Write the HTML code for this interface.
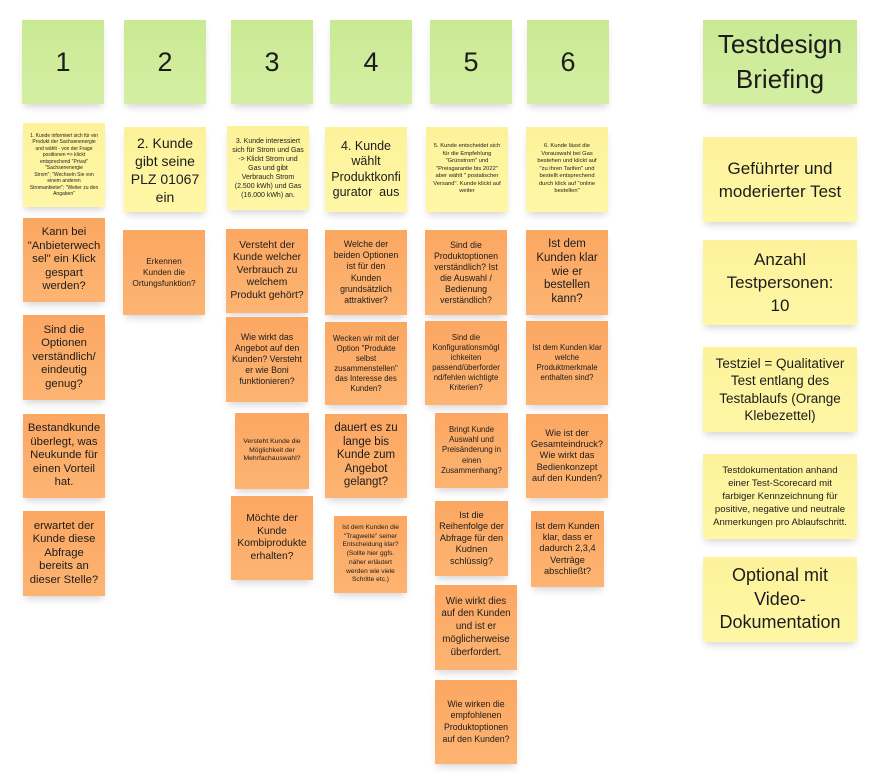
<!DOCTYPE html>
<html><head><meta charset="utf-8">
<style>
html,body{margin:0;padding:0;background:#fff;}
body{width:884px;height:784px;position:relative;overflow:hidden;font-family:"Liberation Sans","DejaVu Sans",sans-serif;color:#1c1c1c;}
.n{position:absolute;display:flex;align-items:center;justify-content:center;text-align:center;box-shadow:0 5px 7px -2px rgba(0,0,0,0.16);white-space:nowrap;box-sizing:border-box;}
.g{background:linear-gradient(#c9e994,#d4efa2);}
.y{background:linear-gradient(#fdf29a,#fff7a6);}
.o{background:linear-gradient(#fba762,#fdb472);}
</style></head><body>

<!-- top green numbers -->
<div class="n g" style="left:22px;top:20px;width:82px;height:84px;font-size:27px;">1</div>
<div class="n g" style="left:124px;top:20px;width:82px;height:84px;font-size:27px;">2</div>
<div class="n g" style="left:231px;top:20px;width:82px;height:84px;font-size:27px;">3</div>
<div class="n g" style="left:330px;top:20px;width:82px;height:84px;font-size:27px;">4</div>
<div class="n g" style="left:430px;top:20px;width:82px;height:84px;font-size:27px;">5</div>
<div class="n g" style="left:527px;top:20px;width:82px;height:84px;font-size:27px;">6</div>

<!-- yellow step notes -->
<div class="n y" style="left:23px;top:123px;width:82px;height:84px;font-size:5px;line-height:6.5px;">1. Kunde informiert sich für ein<br>Produkt der Sachsenenergie<br>und wählt - von der Frage<br>positionen => klickt<br>entsprechend "Privat"<br>"Sachsenenergie<br>Strom"; "Wechseln Sie von<br>einem anderen<br>Stromanbieter"; "Weiter zu den<br>Angaben"</div>
<div class="n y" style="left:124px;top:127px;width:82px;height:85px;font-size:14px;line-height:18px;">2. Kunde<br>gibt seine<br>PLZ 01067<br>ein</div>
<div class="n y" style="left:227px;top:126px;width:82px;height:84px;font-size:7px;line-height:9px;">3. Kunde interessiert<br>sich für Strom und Gas<br>-&gt; Klickt Strom und<br>Gas und gibt<br>Verbrauch Strom<br>(2.500 kWh) und Gas<br>(16.000 kWh) an.</div>
<div class="n y" style="left:325px;top:127px;width:82px;height:85px;font-size:12.5px;line-height:15.5px;">4. Kunde<br>wählt<br>Produktkonfi<br>gurator&nbsp; aus</div>
<div class="n y" style="left:426px;top:127px;width:82px;height:85px;font-size:5.8px;line-height:7.6px;">5. Kunde entscheidet sich<br>für die Empfehlung<br>"Grünstrom" und<br>"Preisgarantie bis 2022"<br>aber wählt " postalischer<br>Versand". Kunde klickt auf<br>weiter</div>
<div class="n y" style="left:526px;top:127px;width:82px;height:85px;font-size:5.8px;line-height:7.6px;">6. Kunde lässt die<br>Vorauswahl bei Gas<br>bestehen und klickt auf<br>"zu ihren Tarifen" und<br>bestellt entsprechend<br>durch klick auf "online<br>bestellen"</div>

<!-- column 1 orange -->
<div class="n o" style="left:23px;top:218px;width:82px;height:84px;font-size:11.3px;line-height:13.5px;">Kann bei<br>"Anbieterwech<br>sel" ein Klick<br>gespart<br>werden?</div>
<div class="n o" style="left:23px;top:315px;width:82px;height:85px;font-size:11.3px;line-height:13.5px;">Sind die<br>Optionen<br>verständlich/<br>eindeutig<br>genug?</div>
<div class="n o" style="left:23px;top:414px;width:82px;height:84px;font-size:11.3px;line-height:13.5px;">Bestandkunde<br>überlegt, was<br>Neukunde für<br>einen Vorteil<br>hat.</div>
<div class="n o" style="left:23px;top:511px;width:82px;height:85px;font-size:11.3px;line-height:13.5px;">erwartet der<br>Kunde diese<br>Abfrage<br>bereits an<br>dieser Stelle?</div>

<!-- column 2 orange -->
<div class="n o" style="left:123px;top:230px;width:82px;height:85px;font-size:8.3px;line-height:11px;">Erkennen<br>Kunden die<br>Ortungsfunktion?</div>

<!-- column 3 orange -->
<div class="n o" style="left:226px;top:229px;width:82px;height:84px;font-size:10.3px;line-height:12.5px;">Versteht der<br>Kunde welcher<br>Verbrauch zu<br>welchem<br>Produkt gehört?</div>
<div class="n o" style="left:226px;top:317px;width:82px;height:85px;font-size:8.8px;line-height:11px;">Wie wirkt das<br>Angebot auf den<br>Kunden? Versteht<br>er wie Boni<br>funktionieren?</div>
<div class="n o" style="left:235px;top:413px;width:74px;height:76px;font-size:6.8px;line-height:8.6px;">Versteht Kunde die<br>Möglichkeit der<br>Mehrfachauswahl?</div>
<div class="n o" style="left:231px;top:496px;width:82px;height:84px;font-size:10.3px;line-height:12.5px;">Möchte der<br>Kunde<br>Kombiprodukte<br>erhalten?</div>

<!-- column 4 orange -->
<div class="n o" style="left:325px;top:230px;width:82px;height:85px;font-size:8.8px;line-height:11.3px;">Welche der<br>beiden Optionen<br>ist für den<br>Kunden<br>grundsätzlich<br>attraktiver?</div>
<div class="n o" style="left:325px;top:322px;width:82px;height:83px;font-size:7.8px;line-height:10px;">Wecken wir mit der<br>Option "Produkte<br>selbst<br>zusammenstellen"<br>das Interesse des<br>Kunden?</div>
<div class="n o" style="left:325px;top:414px;width:82px;height:84px;font-size:11.5px;line-height:13.4px;">dauert es zu<br>lange bis<br>Kunde zum<br>Angebot<br>gelangt?</div>
<div class="n o" style="left:334px;top:516px;width:73px;height:77px;font-size:6.6px;line-height:8.8px;">Ist dem Kunden die<br>"Tragweite" seiner<br>Entscheidung klar?<br>(Sollte hier ggfs.<br>näher erläutert<br>werden wie viele<br>Schritte etc.)</div>

<!-- column 5 orange -->
<div class="n o" style="left:425px;top:230px;width:82px;height:85px;font-size:8.8px;line-height:11px;">Sind die<br>Produktoptionen<br>verständlich? Ist<br>die Auswahl /<br>Bedienung<br>verständlich?</div>
<div class="n o" style="left:425px;top:321px;width:82px;height:84px;font-size:7.8px;line-height:10px;">Sind die<br>Konfigurationsmögl<br>ichkeiten<br>passend/überforder<br>nd/fehlen wichtigte<br>Kriterien?</div>
<div class="n o" style="left:435px;top:413px;width:73px;height:75px;font-size:7.8px;line-height:10.2px;">Bringt Kunde<br>Auswahl und<br>Preisänderung in<br>einen<br>Zusammenhang?</div>
<div class="n o" style="left:435px;top:501px;width:73px;height:75px;font-size:9.2px;line-height:11.5px;">Ist die<br>Reihenfolge der<br>Abfrage für den<br>Kudnen<br>schlüssig?</div>
<div class="n o" style="left:435px;top:585px;width:82px;height:85px;font-size:9.8px;line-height:12.8px;">Wie wirkt dies<br>auf den Kunden<br>und ist er<br>möglicherweise<br>überfordert.</div>
<div class="n o" style="left:435px;top:680px;width:82px;height:84px;font-size:8.8px;line-height:11.7px;">Wie wirken die<br>empfohlenen<br>Produktoptionen<br>auf den Kunden?</div>

<!-- column 6 orange -->
<div class="n o" style="left:526px;top:230px;width:82px;height:85px;font-size:11.5px;line-height:13.7px;">Ist dem<br>Kunden klar<br>wie er<br>bestellen<br>kann?</div>
<div class="n o" style="left:526px;top:321px;width:82px;height:84px;font-size:7.8px;line-height:10px;">Ist dem Kunden klar<br>welche<br>Produktmerkmale<br>enthalten sind?</div>
<div class="n o" style="left:526px;top:414px;width:82px;height:84px;font-size:9.2px;line-height:11.2px;">Wie ist der<br>Gesamteindruck?<br>Wie wirkt das<br>Bedienkonzept<br>auf den Kunden?</div>
<div class="n o" style="left:531px;top:511px;width:73px;height:76px;font-size:9.2px;line-height:11.3px;">Ist dem Kunden<br>klar, dass er<br>dadurch 2,3,4<br>Verträge<br>abschließt?</div>

<!-- right column -->
<div class="n g" style="left:703px;top:20px;width:154px;height:84px;font-size:26px;line-height:35px;">Testdesign<br>Briefing</div>
<div class="n y" style="left:703px;top:137px;width:154px;height:85px;font-size:17px;line-height:23px;">Geführter und<br>moderierter Test</div>
<div class="n y" style="left:703px;top:240px;width:154px;height:85px;font-size:17px;line-height:23px;">Anzahl<br>Testpersonen:<br>10</div>
<div class="n y" style="left:703px;top:347px;width:154px;height:85px;font-size:13.5px;line-height:17.5px;">Testziel = Qualitativer<br>Test entlang des<br>Testablaufs (Orange<br>Klebezettel)</div>
<div class="n y" style="left:703px;top:454px;width:154px;height:85px;font-size:9.6px;line-height:13px;">Testdokumentation anhand<br>einer Test-Scorecard mit<br>farbiger Kennzeichnung für<br>positive, negative und neutrale<br>Anmerkungen pro Ablaufschritt.</div>
<div class="n y" style="left:703px;top:557px;width:154px;height:85px;font-size:18px;line-height:23.5px;">Optional mit<br>Video-<br>Dokumentation</div>

</body></html>
